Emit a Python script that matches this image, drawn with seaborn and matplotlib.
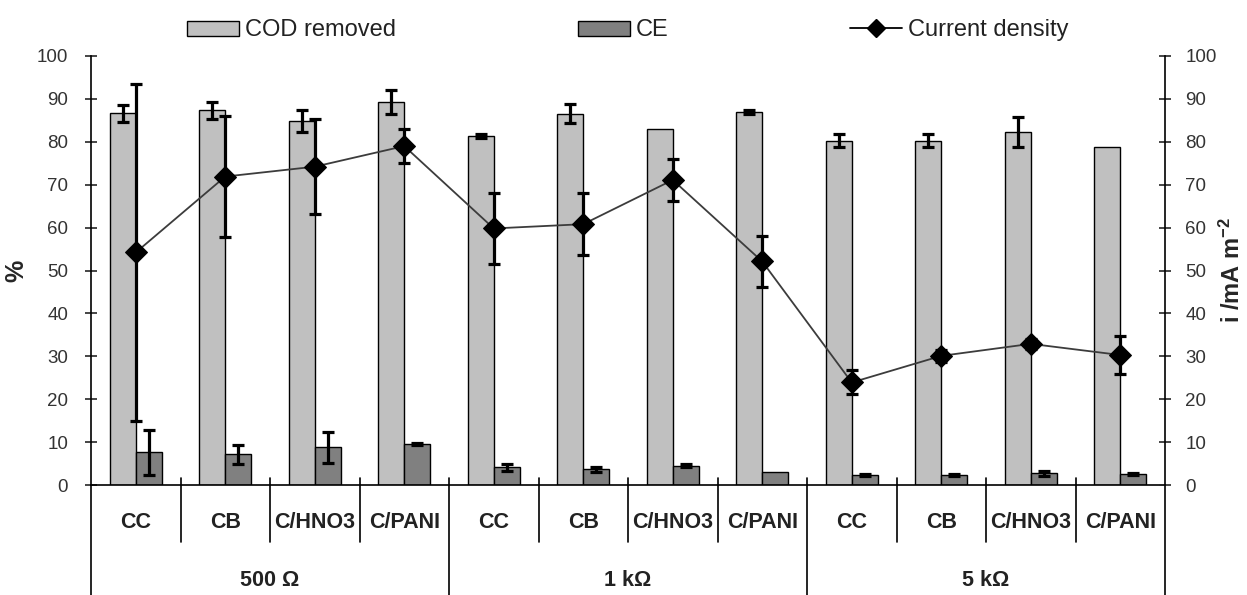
import numpy as np
import pandas as pd
import matplotlib
matplotlib.use("Agg")
import matplotlib.pyplot as plt
import matplotlib.transforms as mtransforms
from matplotlib.lines import Line2D
from matplotlib.patches import Patch
import seaborn as sns

# Experimental conditions
resistances = ["500 Ω", "1 kΩ", "5 kΩ"]
electrodes = ["CC", "CB", "C/HNO3", "C/PANI"]

# Left axis (%) series
cod_removed = [86.6, 87.3, 84.9, 89.2, 81.4, 86.5, 83.0, 86.9, 80.3, 80.3, 82.3, 78.8]
cod_err = [2.0, 2.0, 2.5, 2.8, 0.5, 2.2, 0.0, 0.4, 1.6, 1.6, 3.4, 0.0]
ce = [7.6, 7.2, 8.8, 9.6, 4.1, 3.7, 4.5, 3.0, 2.3, 2.3, 2.7, 2.6]
ce_err = [5.3, 2.2, 3.6, 0.3, 0.9, 0.6, 0.3, 0.0, 0.3, 0.3, 0.5, 0.3]

# Right axis (mA m-2) series
current_density = [54.2, 71.9, 74.2, 79.0, 59.8, 60.8, 71.1, 52.1, 23.9, 30.1, 32.9, 30.3]
cd_err = [39.3, 14.0, 11.1, 4.0, 8.2, 7.2, 5.0, 5.9, 2.8, 1.4, 1.2, 4.5]

y_ticks = list(range(0, 101, 10))

series_names = ["COD removed", "CE"]
series_colors = ["#c0c0c0", "#808080"]

conditions = [f"{r} {e}" for r in resistances for e in electrodes]
df = pd.DataFrame({
    "condition": conditions * 2,
    "series": [series_names[0]] * len(conditions) + [series_names[1]] * len(conditions),
    "value": cod_removed + ce,
})

sns.set_style("ticks")
plt.rcParams["font.family"] = ["Liberation Sans", "DejaVu Sans"]
plt.rcParams["mathtext.default"] = "regular"

fig = plt.figure(figsize=(12.47, 5.95), dpi=100)
ax = fig.add_axes([91 / 1247, 110 / 595, (1165 - 91) / 1247, (485 - 56) / 595])

sns.barplot(data=df, x="condition", y="value", hue="series", hue_order=series_names,
            palette=series_colors, width=0.58, edgecolor="black", linewidth=1,
            errorbar=None, legend=False, ax=ax)

# error bars on the bars
for container, vals, errs in zip(ax.containers, [cod_removed, ce], [cod_err, ce_err]):
    xs = np.array([p.get_x() + p.get_width() / 2 for p in container])
    vals = np.array(vals)
    errs = np.array(errs)
    keep = errs > 0
    ax.errorbar(xs[keep], vals[keep], yerr=errs[keep], fmt="none", ecolor="black",
                elinewidth=2.3, capsize=4, capthick=2.3, zorder=5)

ax.set_xlim(-0.5, len(conditions) - 0.5)
ax.set_ylim(0, 100)
ax.set_yticks(y_ticks)
ax.set_xlabel("")
ax.set_ylabel("%", fontsize=18, fontweight="bold", labelpad=6)
ax.tick_params(axis="x", length=0, labelbottom=False)
ax.tick_params(axis="y", direction="inout", length=9, width=1.2, labelsize=13.5,
               labelcolor="#333333", pad=12)
for side in ["top", "right"]:
    ax.spines[side].set_visible(False)
for side in ["left", "bottom"]:
    ax.spines[side].set_linewidth(1.2)
    ax.spines[side].set_color("black")

# current density on the secondary axis
ax2 = ax.twinx()
xpos = np.arange(len(conditions))
sns.lineplot(x=xpos, y=current_density, ax=ax2, color="#3c3c3c", linewidth=1.3,
             marker="D", markersize=11, markerfacecolor="black", markeredgecolor="black",
             zorder=4)
ax2.errorbar(xpos, current_density, yerr=cd_err, fmt="none", ecolor="black",
             elinewidth=2.3, capsize=4, capthick=2.3, zorder=6)
ax2.set_xlim(-0.5, len(conditions) - 0.5)
ax2.set_ylim(0, 100)
ax2.set_yticks(y_ticks)
ax2.set_ylabel("i /mA m$^{-2}$", fontsize=17, fontweight="bold", labelpad=2)
ax2.tick_params(axis="y", direction="inout", length=9, width=1.2, labelsize=13.5,
                labelcolor="#333333", pad=10)
for side in ["top", "left", "bottom"]:
    ax2.spines[side].set_visible(False)
ax2.spines["right"].set_linewidth(1.2)
ax2.spines["right"].set_color("black")

# two-level category axis drawn below the plot
trans = mtransforms.blended_transform_factory(ax.transData, ax.transAxes)
n_e = len(electrodes)
for i in range(len(conditions) + 1):
    b = i - 0.5
    if i % n_e == 0:
        y0 = 0.0 if i in (0, len(conditions)) else 0.016
        ax.plot([b, b], [y0, -0.258], transform=trans, color="black", lw=1.2, clip_on=False)
    else:
        ax.plot([b, b], [0.016, -0.133], transform=trans, color="black", lw=1.2, clip_on=False)
for i, name in enumerate(conditions):
    ax.text(i, -0.087, electrodes[i % n_e], transform=trans, ha="center", va="center",
            fontsize=15.5, fontweight="bold", color="#222222")
for g, r in enumerate(resistances):
    ax.text(g * n_e + (n_e - 1) / 2, -0.222, r, transform=trans, ha="center", va="center",
            fontsize=15.5, fontweight="bold", color="#222222")

handles = [
    Patch(facecolor=series_colors[0], edgecolor="black", linewidth=1),
    Patch(facecolor=series_colors[1], edgecolor="black", linewidth=1),
    Line2D([], [], color="black", linewidth=1.3, marker="D", markersize=9),
]
leg = ax2.legend(handles, series_names + ["Current density"], loc="lower center",
                 bbox_to_anchor=(0.5, 1.012), ncol=3, frameon=False, fontsize=17,
                 columnspacing=7.7, handlelength=2.2, handleheight=0.6, handletextpad=0.25,
                 borderaxespad=0)
for t in leg.get_texts():
    t.set_color("#222222")

fig.savefig("out.png", dpi=100)
